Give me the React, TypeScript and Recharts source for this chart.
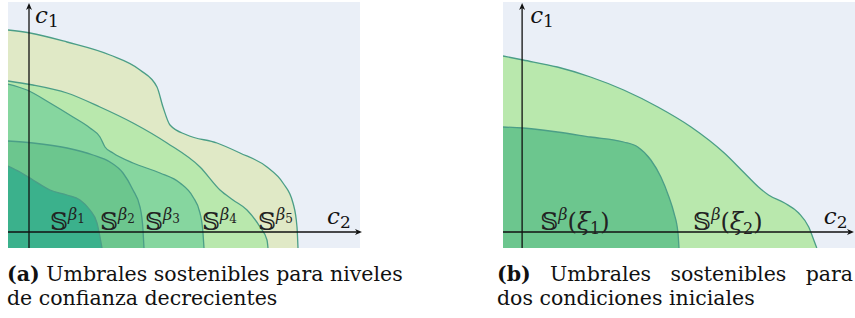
import React from 'react';
import {
  ComposedChart,
  Area,
  XAxis,
  YAxis,
  ReferenceArea,
  ReferenceLine,
  ReferenceDot
} from 'recharts';

// panel (a): sustainable thresholds, decreasing confidence levels
const beta5 = [
  { x: -2.1, y: 20.2 }, { x: 0.1, y: 19.9 }, { x: 3.8, y: 19.0 }, { x: 8.1, y: 17.7 },
  { x: 11.1, y: 16.2 }, { x: 12.8, y: 14.5 }, { x: 13.4, y: 12.5 }, { x: 14.1, y: 10.7 },
  { x: 15.8, y: 9.7 }, { x: 18.8, y: 8.9 }, { x: 21.1, y: 7.9 }, { x: 23.8, y: 6.5 },
  { x: 25.4, y: 4.9 }, { x: 26.4, y: 2.9 }, { x: 26.8, y: 0.5 }, { x: 26.9, y: -1.6 }
];
const beta4 = [
  { x: -2.1, y: 15.1 }, { x: 0.4, y: 14.7 }, { x: 3.8, y: 13.9 }, { x: 7.1, y: 12.5 },
  { x: 10.4, y: 10.9 }, { x: 13.8, y: 8.9 }, { x: 17.1, y: 6.5 }, { x: 19.1, y: 4.2 },
  { x: 20.4, y: 3.2 }, { x: 21.8, y: 2.2 }, { x: 23.1, y: 0.5 }, { x: 23.8, y: -0.8 },
  { x: 23.9, y: -1.6 }
];
const beta3 = [
  { x: -2.1, y: 14.8 }, { x: -0.2, y: 14.2 }, { x: 2.1, y: 12.9 }, { x: 4.4, y: 11.5 },
  { x: 6.1, y: 10.4 }, { x: 7.1, y: 9.5 }, { x: 7.6, y: 8.5 }, { x: 8.4, y: 7.9 },
  { x: 10.4, y: 6.9 }, { x: 13.1, y: 5.9 }, { x: 15.1, y: 4.9 }, { x: 16.4, y: 3.5 },
  { x: 17.1, y: 1.9 }, { x: 17.4, y: -0.1 }, { x: 17.5, y: -1.6 }
];
const beta2 = [
  { x: -2.1, y: 9.1 }, { x: 0.4, y: 8.9 }, { x: 3.8, y: 8.4 }, { x: 6.4, y: 7.7 },
  { x: 8.1, y: 7.0 }, { x: 9.4, y: 5.9 }, { x: 10.4, y: 4.2 }, { x: 11.1, y: 2.5 },
  { x: 11.4, y: 0.2 }, { x: 11.5, y: -1.6 }
];
const beta1 = [
  { x: -2.1, y: 6.6 }, { x: -0.9, y: 6.0 }, { x: 0.4, y: 5.2 }, { x: 2.1, y: 4.2 },
  { x: 3.8, y: 3.7 }, { x: 5.1, y: 3.2 }, { x: 6.1, y: 2.2 }, { x: 6.8, y: 0.9 },
  { x: 7.1, y: -0.5 }, { x: 7.3, y: -1.6 }
];
const betaLabels = [
  { x: 2.1, y: 0.2, sub: '1' },
  { x: 7.1, y: 0.2, sub: '2' },
  { x: 11.6, y: 0.2, sub: '3' },
  { x: 17.3, y: 0.2, sub: '4' },
  { x: 22.9, y: 0.2, sub: '5' }
];

// panel (b): two initial conditions
const xi2 = [
  { x: -1.9, y: 17.6 }, { x: 0.1, y: 17.2 }, { x: 3.5, y: 16.5 }, { x: 6.8, y: 15.5 },
  { x: 10.1, y: 14.2 }, { x: 13.5, y: 12.5 }, { x: 16.8, y: 10.5 }, { x: 20.1, y: 7.9 },
  { x: 22.1, y: 5.9 }, { x: 23.5, y: 4.5 }, { x: 24.5, y: 3.7 }, { x: 26.1, y: 2.9 },
  { x: 27.5, y: 1.9 }, { x: 28.5, y: 0.5 }, { x: 29.0, y: -0.8 }, { x: 29.3, y: -1.6 }
];
const xi1 = [
  { x: -1.9, y: 10.5 }, { x: 0.1, y: 10.4 }, { x: 3.5, y: 10.0 }, { x: 6.8, y: 9.5 },
  { x: 10.1, y: 9.0 }, { x: 11.5, y: 8.5 }, { x: 12.8, y: 7.2 }, { x: 13.8, y: 5.5 },
  { x: 14.6, y: 3.5 }, { x: 15.1, y: 1.9 }, { x: 15.5, y: -0.1 }, { x: 15.6, y: -1.6 }
];
const xiLabels = [
  { x: 1.8, y: 0.2, sub: '1' },
  { x: 17.0, y: 0.2, sub: '2' }
];

const Y_MIN = -1.6;
const Y_MAX = 23.0;

const STROKE = '#4b9e87';
const BG = '#eaeff7';
const SERIF = '"DejaVu Serif", "DejaVu Sans", serif';

const Arrow = (props: any) => {
  const { x1, y1, x2, y2 } = props;
  const dx = x2 - x1;
  const dy = y2 - y1;
  const len = Math.sqrt(dx * dx + dy * dy) || 1;
  const ux = dx / len;
  const uy = dy / len;
  const L = 7;
  const W = 3;
  const bx = x2 - ux * L;
  const by = y2 - uy * L;
  const pts = `${x2},${y2} ${bx - uy * W},${by + ux * W} ${x2 - ux * 5},${y2 - uy * 5} ${bx + uy * W},${by - ux * W}`;
  return (
    <g>
      <line x1={x1} y1={y1} x2={x2 - ux * 4} y2={y2 - uy * 4} stroke="#111" strokeWidth={1.3} />
      <polygon points={pts} fill="#111" />
    </g>
  );
};

const AxisName = ({ cx, cy, sub }: any) => (
  <text x={cx} y={cy} fontFamily={SERIF} fontStyle="italic" fontSize={23} fill="#111">
    c<tspan fontStyle="normal" fontSize={17} dy={4}>{sub}</tspan>
  </text>
);

const BetaLabel = ({ cx, cy, sub }: any) => (
  <text x={cx} y={cy} fontFamily={SERIF} fontSize={25} fill="#222">
    𝕊<tspan fontStyle="italic" fontSize={16} dy={-10}>β</tspan>
    <tspan fontSize={12} dy={3}>{sub}</tspan>
  </text>
);

const XiLabel = ({ cx, cy, sub }: any) => (
  <text x={cx} y={cy} fontFamily={SERIF} fontSize={25} fill="#222">
    𝕊<tspan fontStyle="italic" fontSize={16} dy={-10}>β</tspan>
    <tspan fontSize={24} dy={10}>(</tspan>
    <tspan fontSize={24} fontStyle="italic">ξ</tspan>
    <tspan fontSize={16} dy={4}>{sub}</tspan>
    <tspan fontSize={24} dy={-4}>)</tspan>
  </text>
);

const Panel = ({ xMin, xMax, width, left, children }: any) => (
  <ComposedChart
    width={width}
    height={250}
    margin={{ top: 2, right: width - 352 - left, bottom: 2, left }}
  >
    <XAxis type="number" dataKey="x" domain={[xMin, xMax]} hide allowDataOverflow />
    <YAxis type="number" dataKey="y" domain={[Y_MIN, Y_MAX]} hide allowDataOverflow />
    <ReferenceArea x1={xMin} x2={xMax} y1={Y_MIN} y2={Y_MAX} fill={BG} fillOpacity={1} stroke="none" />
    {children}
  </ComposedChart>
);

const region = (data: any[], fill: string, key: string) => (
  <Area
    key={key}
    data={data}
    dataKey="y"
    type="monotone"
    baseValue={Y_MIN}
    fill={fill}
    fillOpacity={1}
    stroke={STROKE}
    strokeWidth={1.3}
    dot={false}
    activeDot={false}
    isAnimationActive={false}
  />
);

const axes = (xMin: number, xEnd: number) => [
  <ReferenceLine key="ax-y" segment={[{ x: 0, y: Y_MIN }, { x: 0, y: 22.9 }]} ifOverflow="visible" shape={Arrow} />,
  <ReferenceLine key="ax-x" segment={[{ x: xMin, y: 0 }, { x: xEnd, y: 0 }]} ifOverflow="visible" shape={Arrow} />
];

const captionStyle: React.CSSProperties = {
  position: 'absolute',
  top: 262,
  fontFamily: '"DejaVu Serif", serif',
  fontSize: 20.5,
  lineHeight: '24px',
  color: '#111',
  whiteSpace: 'nowrap'
};

export default function App() {
  return (
    <div style={{ position: 'absolute', left: 0, top: 0, width: 855, height: 318, background: '#fff', overflow: 'hidden' }}>
      <div style={{ position: 'absolute', left: 0, top: 0 }}>
        <Panel xMin={-2.1} xMax={33.1} width={370} left={8}>
          {region(beta5, '#e0e9c6', 'b5')}
          {region(beta4, '#b9e8ad', 'b4')}
          {region(beta3, '#86d69f', 'b3')}
          {region(beta2, '#6cc68e', 'b2')}
          {region(beta1, '#3bb18c', 'b1')}
          {axes(-2.1, 33.3)}
          {betaLabels.map((l) => (
            <ReferenceDot key={l.sub} x={l.x} y={l.y} r={0} ifOverflow="visible"
              shape={(p: any) => <BetaLabel cx={p.cx} cy={p.cy} sub={l.sub} />} />
          ))}
          <ReferenceDot x={0.6} y={20.9} r={0} ifOverflow="visible" shape={(p: any) => <AxisName cx={p.cx} cy={p.cy} sub="1" />} />
          <ReferenceDot x={29.8} y={0.8} r={0} ifOverflow="visible" shape={(p: any) => <AxisName cx={p.cx} cy={p.cy} sub="2" />} />
        </Panel>
      </div>
      <div style={{ position: 'absolute', left: 495, top: 0 }}>
        <Panel xMin={-1.9} xMax={33.1} width={360} left={8}>
          {region(xi2, '#b9e8ad', 'x2')}
          {region(xi1, '#6cc68e', 'x1')}
          {axes(-1.9, 33.0)}
          {xiLabels.map((l) => (
            <ReferenceDot key={l.sub} x={l.x} y={l.y} r={0} ifOverflow="visible"
              shape={(p: any) => <XiLabel cx={p.cx} cy={p.cy} sub={l.sub} />} />
          ))}
          <ReferenceDot x={0.8} y={20.9} r={0} ifOverflow="visible" shape={(p: any) => <AxisName cx={p.cx} cy={p.cy} sub="1" />} />
          <ReferenceDot x={30.0} y={0.8} r={0} ifOverflow="visible" shape={(p: any) => <AxisName cx={p.cx} cy={p.cy} sub="2" />} />
        </Panel>
      </div>
      <div style={{ ...captionStyle, left: 7 }}>
        <b>(a)</b> Umbrales sostenibles para niveles<br />de confianza decrecientes
      </div>
      <div style={{ ...captionStyle, left: 497, width: 356 }}>
        <div style={{ textAlign: 'justify', textAlignLast: 'justify', whiteSpace: 'normal' }}>
          <b>(b)</b> Umbrales sostenibles para
        </div>
        <div>dos condiciones iniciales</div>
      </div>
    </div>
  );
}
